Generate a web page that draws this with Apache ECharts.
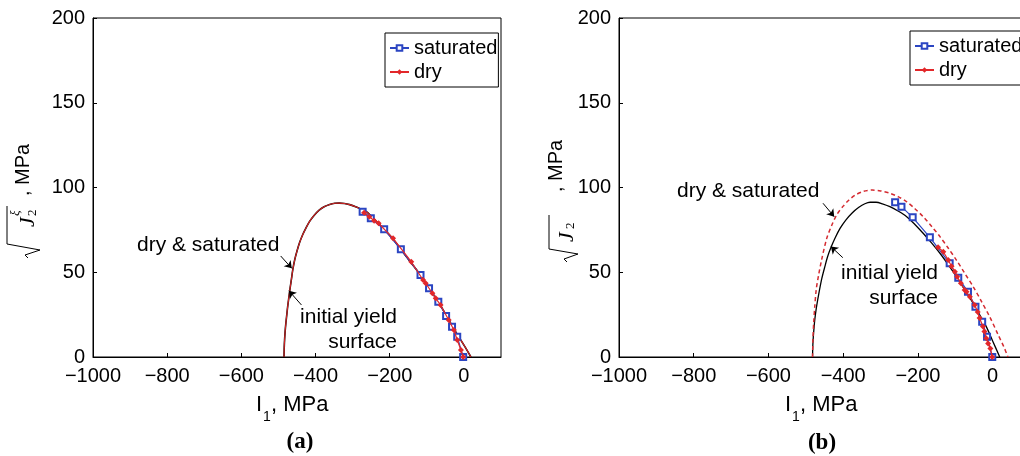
<!DOCTYPE html>
<html><head><meta charset="utf-8">
<script src="https://cdn.jsdelivr.net/npm/echarts@6/dist/echarts.min.js"></script>
<style>html,body{margin:0;padding:0;background:#fff}#c{width:1020px;height:456px}</style>
</head><body><div id="c"></div>
<script>
// ---------- DATA ----------
const xTicks = [-1000, -800, -600, -400, -200, 0];
const yTicks = [0, 50, 100, 150, 200];
const legendNames = ['saturated', 'dry'];

// Panel (a): initial yield surface (the fitted dry & saturated curve coincides with it)
const yieldA = [[-485,0],[-484.5,5],[-483.5,10],[-482,15],[-480,20],[-477.5,25],[-475,30],[-472,35],[-469,40],[-465,46],[-461,52],[-456,57.5],[-450,62.5],[-443,67.5],[-435,72],[-426,76],[-416,80],[-404,83.5],[-391,86.5],[-377,88.6],[-362,90],[-348,90.7],[-336,90.8],[-322,90.6],[-308,89.9],[-292,88.7],[-276,87.1],[-262,85.6],[-240,81],[-215,75.3],[-192,69.8],[-170,63.5],[-143,55.8],[-117,48.3],[-94,40.6],[-69,32.6],[-48,24.6],[-22,14.8],[3,6],[19,0]];
const fitA = [[-485,0],[-484.5,5],[-483.5,10],[-482,15],[-480,20],[-477.5,25],[-475,30],[-472,35],[-469,40],[-465,46],[-461,52],[-456,57.5],[-450,62.5],[-443,67.5],[-435,72],[-426,76],[-416,80],[-404,83.5],[-391,86.5],[-377,88.6],[-362,90],[-348,90.7],[-336,90.8],[-322,90.6],[-308,89.9],[-292,88.7],[-276,87.1],[-262,85.6],[-240,81],[-215,75.3],[-192,69.8],[-170,63.5],[-143,55.8],[-117,48.3],[-94,40.6],[-69,32.6],[-48,24.6],[-22,14.8],[3,6],[19,0]];
const saturatedA = [[-273,85.7],[-251,81.8],[-215,75.3],[-170,63.5],[-117,48.4],[-94,40.5],[-69,32.6],[-48,24.2],[-32,17.9],[-18,12],[-2,0]];
const dryA = [[-269,85.1],[-255,82.8],[-242,80.4],[-230,78.9],[-191,70],[-142,56.2],[-110,45.4],[-103,43.5],[-85,37.6],[-76,34.6],[-63,30.7],[-41,21.8],[-27,15.9],[-18,10],[-8,4.1],[-2,0]];

// Panel (b)
const yieldB = [[-482,0],[-481.5,5],[-480.5,10],[-478.5,16],[-476,22],[-472.5,28],[-468,34],[-463,40],[-457,46.5],[-450,52.5],[-442,59],[-432,65],[-421,70.5],[-408,76],[-393,80.8],[-376,85],[-358,88.3],[-342,90.4],[-328,91.3],[-312,91.3],[-295,90.4],[-275,88.7],[-252,86],[-230,82.8],[-208,78.2],[-186,73],[-163,67.2],[-141,61.2],[-119,54.5],[-97,47.4],[-75,39.8],[-52,31.7],[-35,25],[-17,17.9],[0,9.5],[19,0]];
const fitB = [[-482,0],[-481,10],[-479,20],[-476,30],[-472,40],[-466,48],[-458,57],[-444,70],[-430,78],[-417,84],[-400,89],[-385,92.5],[-368,95.5],[-346,97.7],[-322,98.5],[-300,98],[-275,96.6],[-252,94.5],[-230,91.6],[-208,87.5],[-186,82.8],[-163,77],[-141,71],[-119,64.3],[-97,57.2],[-75,49.5],[-52,41.5],[-30,32.8],[-8,23.8],[15,13],[30,6],[41,0]];
const saturatedB = [[-261,91.3],[-244,88.7],[-214,82.4],[-168,70.6],[-115,55.3],[-92,46.8],[-66,38.5],[-46,29.7],[-28,20.8],[-15,12],[-1,0]];
const dryB = [[-146,64.7],[-132,62.1],[-119,57.2],[-110,53.5],[-101,50.3],[-95,47.4],[-85,43.5],[-75,39.5],[-70,38.5],[-61,35.6],[-48,30.7],[-40,26.5],[-35,23],[-26,18],[-22,15],[-17,11],[-12,8],[-6,5],[-1,0]];

// annotation arrows [tail, head] in data units
const arrowsA = [[[-494,59.6],[-464,52.3]], [[-438,30.7],[-472,39.1]]];
const arrowsB = [[[-454,90.7],[-424,82.8]], [[-401,58.6],[-433,65.2]]];
const annotA = {fit: 'dry & saturated', yield1: 'initial yield', yield2: 'surface'};
const panelLabels = ['(a)', '(b)'];

// ---------- CHART ----------
const SANS = 'Liberation Sans, Arial, sans-serif';
const SERIF = 'Liberation Serif, Times New Roman, serif';
const chart = echarts.init(document.getElementById('c'));

function xAx(i){
  return {gridIndex:i, type:'value', min:xTicks[0], max:100, interval:200,
    axisLine:{onZero:false, lineStyle:{color:'#000', width:1}},
    axisTick:{inside:true, length:4, lineStyle:{color:'#000'}},
    axisLabel:{fontSize:20, color:'#000', fontFamily:SANS, margin:9, showMaxLabel:false,
      formatter:v => v < 0 ? '\u2212' + Math.abs(v) : String(v)},
    splitLine:{show:false}};
}
function yAx(i){
  return {gridIndex:i, type:'value', min:yTicks[0], max:yTicks[yTicks.length-1], interval:50,
    axisLine:{onZero:false, lineStyle:{color:'#000', width:1}},
    axisTick:{inside:true, length:4, lineStyle:{color:'#000'}},
    axisLabel:{fontSize:20, color:'#000', fontFamily:SANS, margin:8},
    splitLine:{show:false}};
}
function arrowML(arr){
  return {silent:true, symbol:['none','arrow'], symbolSize:7, label:{show:false},
    lineStyle:{color:'#000', width:1, type:'solid'}, emphasis:{disabled:true},
    data: arr.map(p => [{coord:p[0]}, {coord:p[1]}])};
}
const BLUE = '#2b45c2', RED = '#e2272a';
function satSeries(i, data){
  return {name:'saturated', type:'line', xAxisIndex:i, yAxisIndex:i, data:data,
    symbol:'emptyRect', symbolSize:6, lineStyle:{color:BLUE, width:1.2},
    itemStyle:{color:BLUE, borderColor:BLUE, borderWidth:1.2}, z:4};
}
function drySeries(i, data){
  return {name:'dry', type:'line', xAxisIndex:i, yAxisIndex:i, data:data,
    symbol:'diamond', symbolSize:6, lineStyle:{color:RED, width:1.2},
    itemStyle:{color:RED}, z:5};
}
function legend(left, top){
  return {data:legendNames, left:left, top:top, orient:'vertical', itemWidth:19, itemHeight:7,
    itemGap:4, padding:[5,1,5,4], borderColor:'#000', borderWidth:1, backgroundColor:'#fff',
    textStyle:{fontSize:20, fontFamily:SANS, color:'#000'}, selectedMode:false};
}
function t(x, y, text, font, align){
  return {type:'text', x:x, y:y, style:{text:text, font:font, fill:'#000', textAlign:align||'left', textVerticalAlign:'middle'}};
}
function yName(x, y, withXi, rad, jx, jy, subX, subY, commaX){
  const ch = [
    {type:'polyline', shape:{points:rad}, style:{stroke:'#000', lineWidth:1, fill:null}},
    t(jx, jy, 'J', 'italic 22px ' + SERIF),
    t(subX, subY, '2', '13px ' + SERIF),
    t(commaX, -1, ', MPa', '20px ' + SANS)
  ];
  if (withXi) ch.push(t(subX, -8, '\u03BE', 'italic 13px ' + SERIF));
  return {type:'group', x:x, y:y, rotation:Math.PI/2, children:ch};
}

const option = {
  animation:false,
  backgroundColor:'#fff',
  grid:[
    {left:93, top:18, width:408, height:339, show:true, borderColor:'#000', borderWidth:1, backgroundColor:'transparent', outerBoundsMode:'none'},
    {left:619, top:18, width:411, height:339, show:true, borderColor:'#000', borderWidth:1, backgroundColor:'transparent', outerBoundsMode:'none'}
  ],
  xAxis:[xAx(0), xAx(1)],
  yAxis:[yAx(0), yAx(1)],
  legend:[legend(385,33), legend(910,31)],
  series:[
    {name:'initial yield surface', type:'line', xAxisIndex:0, yAxisIndex:0, data:yieldA, symbol:'none', smooth:0.3,
      lineStyle:{color:'#000', width:1.6}, z:2, markLine:arrowML(arrowsA)},
    {name:'dry & saturated', type:'line', xAxisIndex:0, yAxisIndex:0, data:fitA, symbol:'none', smooth:0.3,
      lineStyle:{color:'#d42424', width:1.1}, z:3},
    satSeries(0, saturatedA),
    drySeries(0, dryA),
    {name:'initial yield surface', type:'line', xAxisIndex:1, yAxisIndex:1, data:yieldB, symbol:'none', smooth:0.3,
      lineStyle:{color:'#000', width:1.3}, z:2, markLine:arrowML(arrowsB)},
    {name:'dry & saturated', type:'line', xAxisIndex:1, yAxisIndex:1, data:fitB, symbol:'none', smooth:0.3,
      lineStyle:{color:'#d42a30', width:1.5, type:[4,3]}, z:3},
    satSeries(1, saturatedB),
    drySeries(1, dryB)
  ],
  graphic:[
    t(137, 245, annotA.fit, '21px ' + SANS),
    t(397, 317, annotA.yield1, '21px ' + SANS, 'right'),
    t(397, 342, annotA.yield2, '21px ' + SANS, 'right'),
    t(677, 191, annotA.fit, '21px ' + SANS),
    t(938, 273, annotA.yield1, '21px ' + SANS, 'right'),
    t(938, 298, annotA.yield2, '21px ' + SANS, 'right'),
    t(256, 405, 'I', '22px ' + SANS), t(263, 417, '1', '14px ' + SANS), t(271, 405, ', MPa', '22px ' + SANS),
    t(785, 405, 'I', '22px ' + SANS), t(792, 417, '1', '14px ' + SANS), t(800, 405, ', MPa', '22px ' + SANS),
    yName(24, 258, true, [[0,4],[3,1],[8,16],[14,-17],[52,-17]], 31, 4, 42, 9, 62),
    yName(557, 262, false, [[0,10],[3,7],[8,21],[13,-8],[47,-8]], 20, 10, 33, 14, 70),
    t(300, 442, panelLabels[0], 'bold 23px ' + SERIF, 'center'),
    t(822, 443, panelLabels[1], 'bold 23px ' + SERIF, 'center')
  ]
};
chart.setOption(option);
</script></body></html>
